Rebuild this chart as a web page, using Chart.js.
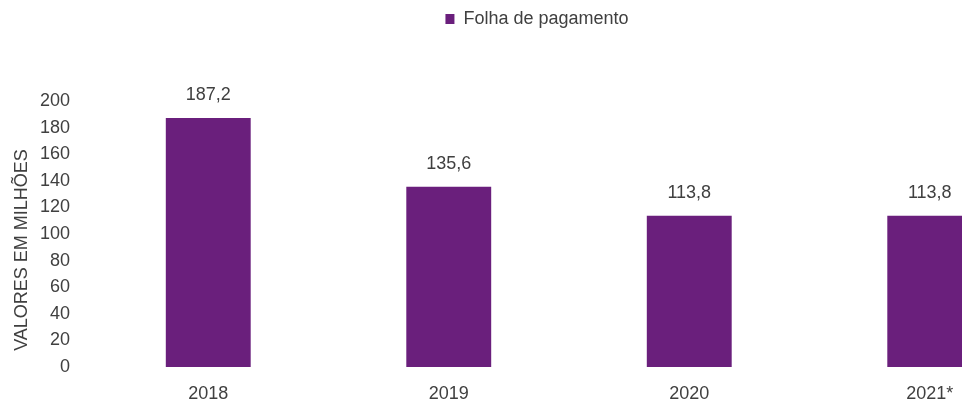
<!DOCTYPE html>
<html>
<head>
<meta charset="utf-8">
<script src="https://cdn.jsdelivr.net/npm/chart.js@4/dist/chart.umd.min.js"></script>
<style>
  html, body { margin: 0; padding: 0; background: #fff; overflow: hidden; }
  #wrap { width: 1060px; height: 404px; }
</style>
</head>
<body>
<div id="wrap"><canvas id="chart"></canvas></div>
<script>
const years = ["2018", "2019", "2020", "2021*"];
const payroll = [187.2, 135.6, 113.8, 113.8];
const yTicks = [0, 20, 40, 60, 80, 100, 120, 140, 160, 180, 200];
const seriesName = "Folha de pagamento";
const yTitle = "VALORES EM MILHÕES";

const textColor = "#404040";
const barColor = "#6a1f7c";
const fontFamily = "'Liberation Sans', Arial, sans-serif";

// push the plot down below the legend
const legendSpace = {
  id: "legendSpace",
  beforeInit(chart) {
    const origFit = chart.legend.fit;
    chart.legend.fit = function () {
      origFit.bind(chart.legend)();
      this.height += 63;
    };
  },
};

// values above the bars
const barValues = {
  id: "barValues",
  afterDatasetsDraw(chart) {
    const ctx = chart.ctx;
    const meta = chart.getDatasetMeta(0);
    ctx.save();
    ctx.font = "18px " + fontFamily;
    ctx.fillStyle = textColor;
    ctx.textAlign = "center";
    ctx.textBaseline = "middle";
    meta.data.forEach((bar, i) => {
      ctx.fillText(payroll[i].toFixed(1).replace(".", ","), bar.x, bar.y - 23);
    });
    ctx.restore();
  },
};

// rotated y axis title
const axisTitle = {
  id: "axisTitle",
  afterDraw(chart) {
    const ctx = chart.ctx;
    ctx.save();
    ctx.font = "18px " + fontFamily;
    ctx.fillStyle = textColor;
    ctx.textAlign = "center";
    ctx.textBaseline = "middle";
    ctx.translate(22, 250);
    ctx.rotate(-Math.PI / 2);
    ctx.fillText(yTitle, 0, 0);
    ctx.restore();
  },
};

const ctx = document.getElementById("chart").getContext("2d");
new Chart(ctx, {
  type: "bar",
  data: {
    labels: years,
    datasets: [
      {
        label: seriesName,
        data: payroll,
        backgroundColor: barColor,
        borderWidth: 0,
        barPercentage: 0.353,
        categoryPercentage: 1,
      },
    ],
  },
  options: {
    responsive: true,
    maintainAspectRatio: false,
    animation: false,
    layout: { padding: { left: 24, right: 10, top: 0, bottom: 0 } },
    plugins: {
      legend: {
        position: "top",
        labels: {
          boxWidth: 9,
          boxHeight: 10,
          padding: 10,
          color: textColor,
          font: { size: 18, family: fontFamily },
        },
      },
      tooltip: { enabled: false },
    },
    scales: {
      x: {
        afterFit(axis) {
          axis.height = 37;
        },
        grid: { display: false, drawTicks: false },
        border: { display: false },
        ticks: {
          color: textColor,
          padding: 16,
          maxRotation: 0,
          font: { size: 18, family: fontFamily },
        },
      },
      y: {
        min: 0,
        max: 200,
        afterFit(axis) {
          axis.width = 64;
        },
        afterBuildTicks(axis) {
          axis.ticks = yTicks.map((v) => ({ value: v }));
        },
        grid: { display: false, drawTicks: false },
        border: { display: false },
        ticks: {
          color: textColor,
          padding: 18,
          font: { size: 18, family: fontFamily },
        },
      },
    },
  },
  plugins: [legendSpace, barValues, axisTitle],
});
</script>
</body>
</html>
